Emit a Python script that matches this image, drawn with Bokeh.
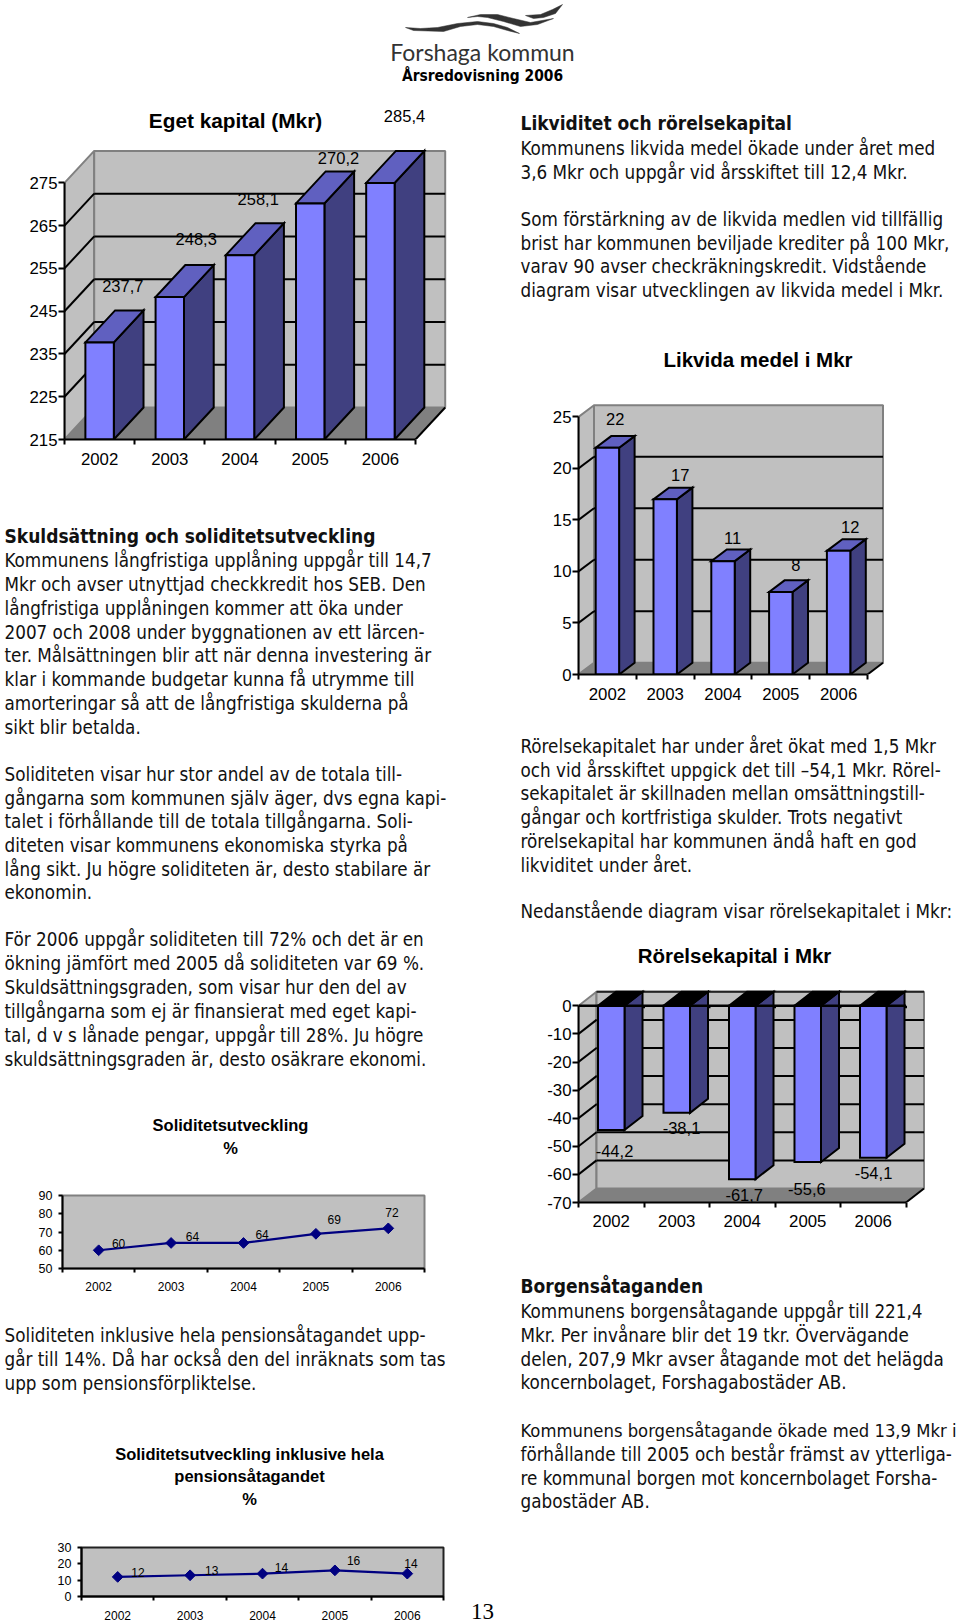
from bokeh.plotting import figure
from bokeh.models import Range1d, FixedTicker, Column
from bokeh.core.properties import value
from bokeh.embed import file_html
from bokeh.resources import INLINE

# ---------- data ----------
YEARS = ["2002", "2003", "2004", "2005", "2006"]
EGET_KAPITAL = [237.7, 248.3, 258.1, 270.2, 285.4]
LIKVIDA_MEDEL = [22, 17, 11, 8, 12]
RORELSEKAPITAL = [-44.2, -38.1, -61.7, -55.6, -54.1]
SOLIDITET = [60, 64, 64, 69, 72]
SOLIDITET_PENSION = [12, 13, 14, 16, 14]
EGET_TICKS = [215, 225, 235, 245, 255, 265, 275]
LIKVIDA_TICKS = [0, 5, 10, 15, 20, 25]
RORELSE_TICKS = [-70, -60, -50, -40, -30, -20, -10, 0]
SOLIDITET_TICKS = [50, 60, 70, 80, 90]
PENSION_TICKS = [0, 10, 20, 30]

# ---------- page text ----------
BODY = [
 (520, 148, "Kommunens likvida medel ökade under året med"),
 (520, 172, "3,6 Mkr och uppgår vid årsskiftet till 12,4 Mkr."),
 (520, 219, "Som förstärkning av de likvida medlen vid tillfällig"),
 (520, 243, "brist har kommunen beviljade krediter på 100 Mkr,"),
 (520, 266, "varav 90 avser checkräkningskredit. Vidstående"),
 (520, 290, "diagram visar utvecklingen av likvida medel i Mkr."),
 (520, 746, "Rörelsekapitalet har under året ökat med 1,5 Mkr"),
 (520, 770, "och vid årsskiftet uppgick det till –54,1 Mkr. Rörel-"),
 (520, 793, "sekapitalet är skillnaden mellan omsättningstill-"),
 (520, 817, "gångar och kortfristiga skulder. Trots negativt"),
 (520, 841, "rörelsekapital har kommunen ändå haft en god"),
 (520, 865, "likviditet under året."),
 (520, 911, "Nedanstående diagram visar rörelsekapitalet i Mkr:"),
 (520, 1311, "Kommunens borgensåtagande uppgår till 221,4"),
 (520, 1335, "Mkr. Per invånare blir det 19 tkr. Övervägande"),
 (520, 1359, "delen, 207,9 Mkr avser åtagande mot det helägda"),
 (520, 1382, "koncernbolaget, Forshagabostäder AB."),
 (520, 1454, "förhållande till 2005 och består främst av ytterliga-"),
 (520, 1478, "re kommunal borgen mot koncernbolaget Forsha-"),
 (520, 1501, "gabostäder AB."),
 (4, 560, "Kommunens långfristiga upplåning uppgår till 14,7"),
 (4, 584, "Mkr och avser utnyttjad checkkredit hos SEB. Den"),
 (4, 608, "långfristiga upplåningen kommer att öka under"),
 (4, 632, "2007 och 2008 under byggnationen av ett lärcen-"),
 (4, 655, "ter. Målsättningen blir att när denna investering är"),
 (4, 679, "klar i kommande budgetar kunna få utrymme till"),
 (4, 703, "amorteringar så att de långfristiga skulderna på"),
 (4, 727, "sikt blir betalda."),
 (4, 774, "Soliditeten visar hur stor andel av de totala till-"),
 (4, 798, "gångarna som kommunen själv äger, dvs egna kapi-"),
 (4, 821, "talet i förhållande till de totala tillgångarna. Soli-"),
 (4, 845, "diteten visar kommunens ekonomiska styrka på"),
 (4, 869, "lång sikt. Ju högre soliditeten är, desto stabilare är"),
 (4, 892, "ekonomin."),
 (4, 939, "För 2006 uppgår soliditeten till 72% och det är en"),
 (4, 963, "ökning jämfört med 2005 då soliditeten var 69 %."),
 (4, 987, "Skuldsättningsgraden, som visar hur den del av"),
 (4, 1011, "tillgångarna som ej är finansierat med eget kapi-"),
 (4, 1035, "tal, d v s lånade pengar, uppgår till 28%. Ju högre"),
 (4, 1059, "skuldsättningsgraden är, desto osäkrare ekonomi."),
 (4, 1335, "Soliditeten inklusive hela pensionsåtagandet upp-"),
 (4, 1359, "går till 14%. Då har också den del inräknats som tas"),
 (4, 1383, "upp som pensionsförpliktelse."),
]
# this line runs right up to the page edge, so it is set a touch tighter
EDGE_LINE = [(520, 1430, "Kommunens borgensåtagande ökade med 13,9 Mkr i")]
HEADINGS = [
 (520, 122, "Likviditet och rörelsekapital"),
 (4, 535, "Skuldsättning och soliditetsutveckling"),
 (520, 1285.5, "Borgensåtaganden"),
]
TITLES = [
 (235, 119.5, 20.8, "Eget kapital (Mkr)"),
 (757.5, 359, 20.5, "Likvida medel i Mkr"),
 (734, 955, 20.5, "Rörelsekapital i Mkr"),
 (230, 1124, 16.5, "Soliditetsutveckling"),
 (230, 1147, 16.5, "%"),
 (249, 1453, 16.5, "Soliditetsutveckling inklusive hela"),
 (249, 1475, 16.5, "pensionsåtagandet"),
 (249, 1498, 16.5, "%"),
]
SWOOSHES = [
 ([405,420,437,457,477,493,507,519,519,507,493,477,460,443,413],
  [27,28,27,23,21,23,27,33,33,30,26,24,26,31,30]),
 ([467,480,497,513,530,553,537,520,503,487,477],
  [17,14,14,18,22,18,24,26,21,17,16]),
 ([525,540,552,562,555,543,533],
  [15,14,9,4,13,17,18]),
]
BODY_FONT = "DejaVu Sans Condensed"
BODY_SIZE = "18.7px"
CHART_FONT = "Liberation Sans"

def place(p, x, y):
    p.styles = {"position": "absolute", "left": f"{x}px", "top": f"{y}px"}

page = figure(width=960, height=1624, x_range=Range1d(0, 960), y_range=Range1d(1624, 0),
              output_backend="svg", toolbar_location=None, min_border=0, frame_align=False)
page.axis.visible = False
page.grid.visible = False
page.outline_line_color = None
place(page, 0, 0)

def put_text(rows, font, size, style="normal", color="black", align="left"):
    page.text(x=[r[0] for r in rows], y=[r[1] for r in rows], text=[r[2] for r in rows],
              text_font=value(font), text_font_size=value(size), text_font_style=style,
              text_color=color, text_align=align, text_baseline="middle")

put_text(BODY, BODY_FONT, BODY_SIZE, color="#111111")
put_text(EDGE_LINE, BODY_FONT, "18.3px", color="#111111")
put_text(HEADINGS, BODY_FONT, "19px", style="bold", color="#111111")
for x, y, size, t in TITLES:
    put_text([(x, y, t)], CHART_FONT, f"{size}px", style="bold", align="center")
put_text([(482, 1611, "13")], "Liberation Serif", "23px", align="center")
put_text([(482, 51, "Forshaga kommun")], "Lato", "23px", color="#333333", align="center")
put_text([(482, 75.5, "Årsredovisning 2006")], BODY_FONT, "15.4px", style="bold", align="center")
page.patches([s[0] for s in SWOOSHES], [s[1] for s in SWOOSHES], fill_color="#333333", line_color="#333333", line_width=0.5)

FRONT, SIDE, TOP, WALL, FLOOR, EDGE = "#8080FF", "#404080", "#6060C0", "#C0C0C0", "#808080", "#808080"

def style_axes(p, yticks, xsize, ysize, lw, xout, yout, xstand, ystand):
    ymin, ymax = yticks[0], yticks[-1]
    p.xaxis.ticker = FixedTicker(ticks=[i + 0.5 for i in range(5)], minor_ticks=list(range(6)))
    p.xaxis.major_label_overrides = {i + 0.5: YEARS[i] for i in range(5)}
    p.yaxis.ticker = FixedTicker(ticks=yticks)
    p.yaxis.major_label_overrides = {t: str(t) for t in yticks}
    p.xaxis.bounds = (0, 5)
    p.yaxis.bounds = (ymin, ymax)
    p.grid.visible = False
    p.xaxis.major_tick_out = 0
    p.xaxis.major_tick_in = 0
    p.xaxis.minor_tick_out = xout
    p.xaxis.minor_tick_in = 0
    p.xaxis.minor_tick_line_color = "black"
    p.xaxis.minor_tick_line_width = lw
    p.yaxis.minor_tick_line_color = None
    p.yaxis.major_tick_out = yout
    p.yaxis.major_tick_in = 0
    p.yaxis.major_tick_line_color = "black"
    p.yaxis.major_tick_line_width = lw
    p.axis.axis_line_color = "black"
    p.axis.axis_line_width = lw
    p.xaxis.major_label_standoff = xstand
    p.yaxis.major_label_standoff = ystand
    p.xaxis.major_label_text_font_size = xsize
    p.yaxis.major_label_text_font_size = ysize
    p.axis.major_label_text_font = CHART_FONT
    p.axis.major_label_text_color = "black"

def labels(p, xs, ys, texts, size):
    p.text(x=xs, y=ys, text=texts, text_font=value(CHART_FONT), text_font_size=value(size),
           text_color="black", text_align="center", text_baseline="middle")

def bar3d(vals, ticks, base, ax_x, step, y_bottom, y_top, dx, dy, label_px, label_text,
          headroom=6, top_color=TOP, zero_line=False, xstand=8):
    ymin, ymax = ticks[0], ticks[-1]
    ppu = (y_bottom - y_top) / (ymax - ymin)
    L, B, R = 62, 42, 6
    fw = round(5 * step + dx + R)
    fh = round(y_bottom - y_top + dy + headroom)
    x_hi = fw / step
    y_hi = ymin + fh / ppu
    p = figure(width=L + fw + 1, height=fh + B, x_range=Range1d(0, x_hi), y_range=Range1d(ymin, y_hi),
               output_backend="svg", toolbar_location=None, min_border_left=L, min_border_right=1,
               min_border_top=0, min_border_bottom=B, background_fill_alpha=0, border_fill_alpha=0,
               frame_align=False)
    p.outline_line_color = None
    place(p, round(ax_x) - L, round(y_bottom) - fh)
    dxu, dyu = dx / step, dy / ppu
    # walls and floor
    p.patch([0, dxu, dxu, 0], [ymin, ymin + dyu, ymax + dyu, ymax], fill_color=WALL, line_color=EDGE, line_width=2)
    p.patch([dxu, 5 + dxu, 5 + dxu, dxu], [ymin + dyu, ymin + dyu, ymax + dyu, ymax + dyu],
            fill_color=WALL, line_color=EDGE, line_width=2)
    p.patch([0, 5, 5 + dxu, dxu], [ymin, ymin, ymin + dyu, ymin + dyu], fill_color=FLOOR, line_color=None)
    p.segment([5], [ymin], [5 + dxu], [ymin + dyu], line_color="black", line_width=2)
    inner = [t for t in ticks if t not in (ymin, ymax)]
    p.segment([0] * len(inner), inner, [dxu] * len(inner), [t + dyu for t in inner], line_color="black", line_width=2)
    p.segment([dxu] * len(inner), [t + dyu for t in inner], [5 + dxu] * len(inner), [t + dyu for t in inner],
              line_color="black", line_width=2)
    if zero_line:
        p.segment([dxu], [ymax + dyu], [5 + dxu], [ymax + dyu], line_color="#222222", line_width=2)
    # bars (clipped at the axis maximum like the original)
    hw = 0.2025
    for i, v in enumerate(vals):
        c = i + 0.5
        tv = min(v, ymax)
        l, r = c - hw, c + hw
        hi, lo = max(base, tv), min(base, tv)
        p.patch([r, r + dxu, r + dxu, r], [lo, lo + dyu, hi + dyu, hi], fill_color=SIDE, line_color="black", line_width=2, line_join="miter")
        p.patch([l, r, r + dxu, l + dxu], [hi, hi, hi + dyu, hi + dyu], fill_color=top_color, line_color="black", line_width=2, line_join="miter")
        p.patch([l, r, r, l], [lo, lo, hi, hi], fill_color=FRONT, line_color="black", line_width=2, line_join="miter")
    if zero_line:
        p.segment([0], [0], [5], [0], line_color="black", line_width=2.5)
        p.segment(list(range(1, 6)), [0] * 5, list(range(1, 6)), [-2.5 / ppu] * 5, line_color="black", line_width=2)
    xs = [(x - ax_x) / step for x, _ in label_px]
    ys = [ymin + (y_bottom - y) / ppu for _, y in label_px]
    labels(p, xs, ys, label_text, "16.5px")
    style_axes(p, ticks, "16.8px", "16.8px", 2, 5, 6, xstand, 1)
    return p

def line_chart(vals, ticks, ax_x, step, y_bottom, y_top, label_px, outline, xstand):
    ymin, ymax = ticks[0], ticks[-1]
    ppu = (y_bottom - y_top) / (ymax - ymin)
    L, B, R, T = 50, 27, 2, 10
    fw, fh = round(5 * step), round(y_bottom - y_top)
    p = figure(width=L + fw + R, height=T + fh + B, x_range=Range1d(0, 5), y_range=Range1d(ymin, ymax),
               output_backend="svg", toolbar_location=None, min_border_left=L, min_border_right=R,
               min_border_top=T, min_border_bottom=B, background_fill_color=WALL, border_fill_alpha=0,
               frame_align=False)
    p.outline_line_color = outline
    p.outline_line_width = 2
    place(p, round(ax_x) - L, round(y_top) - T)
    xc = [i + 0.5 for i in range(5)]
    p.line(xc, vals, line_color="#000080", line_width=2.2)
    p.scatter(xc, vals, marker="square", angle=0.7854, size=7.6, fill_color="#000080", line_color="#000080")
    xs = [(x - ax_x) / step for x, _ in label_px]
    ys = [ymin + (y_bottom - y) / ppu for _, y in label_px]
    labels(p, xs, ys, [str(v) for v in vals], "12px")
    style_axes(p, ticks, "12px", "12.5px", 2, 4, 4, xstand, 6)
    return p

comma = lambda vs: [f"{v:.1f}".replace(".", ",") for v in vs]

c1 = bar3d(EGET_KAPITAL, EGET_TICKS, 215, 64, 70.2, 439.3, 182.7, 29.7, 32,
           [(122.3, 286), (195.7, 238.3), (257.7, 198.3), (338, 157.7), (404, 115.7)],
           comma(EGET_KAPITAL), headroom=50)
c2 = bar3d(LIKVIDA_MEDEL, LIKVIDA_TICKS, 0, 578.3, 57.8, 674.3, 416.7, 15.5, 11.7,
           [(615, 418.3), (680, 475), (732.3, 537.3), (795.7, 564.7), (850, 526.7)],
           [str(v) for v in LIKVIDA_MEDEL])
c3 = bar3d(RORELSEKAPITAL, RORELSE_TICKS, 0, 578.3, 65.5, 1202, 1005.3, 18, 14,
           [(614.3, 1150.3), (681.3, 1127.7), (744, 1194.3), (806.7, 1188.7), (873.3, 1172.7)],
           comma(RORELSEKAPITAL), top_color="black", zero_line=True, xstand=7)
c4 = line_chart(SOLIDITET, SOLIDITET_TICKS, 62, 72.3, 1267.3, 1194.7,
                [(118, 1242.7), (191.7, 1235), (261.3, 1233.3), (333.3, 1218.3), (391, 1212)], "#808080", 9)
c5 = line_chart(SOLIDITET_PENSION, PENSION_TICKS, 81, 72.3, 1596, 1546.7,
                [(137.3, 1572), (211, 1570), (280.7, 1567), (352.7, 1560), (410, 1562.3)], "#222222", 10)

root = Column(children=[page, c1, c2, c3, c4, c5], width=960, height=1624,
              styles={"position": "absolute", "left": "0px", "top": "0px"})
open("out.html", "w").write(file_html(root, INLINE))
